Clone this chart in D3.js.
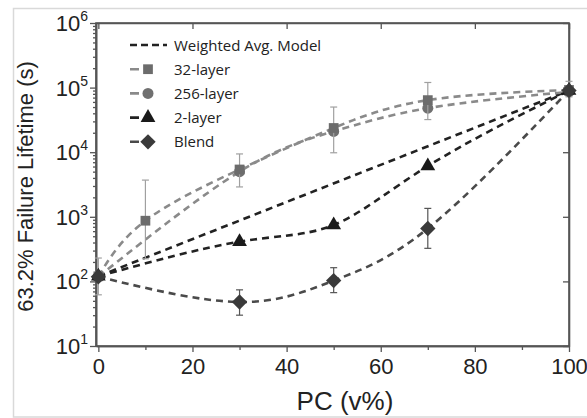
<!DOCTYPE html>
<html><head><meta charset="utf-8">
<script src="https://cdn.jsdelivr.net/npm/d3@7/dist/d3.min.js"></script>
<style>body{margin:0;background:#fff}svg{display:block}</style>
</head><body><svg id="c" width="587" height="418"></svg>
<script>
// ---- data ----
const xTicks = [0, 20, 40, 60, 80, 100];
const xMinor = [10, 30, 50, 70, 90];
const yDecades = [1, 2, 3, 4, 5, 6];
const modelX = [0, 100];
const modelY = [120, 90000];
const l32X = [0, 10, 30, 50, 70, 100];
const l32Y = [120, 870, 5400, 23700, 64000, 92000];
const l32Lo = [62, 224, 2900, 9800, 32000, 72000];
const l32Hi = [230, 3700, 9400, 50000, 120000, 125000];
const l256X = [0, 30, 50, 70, 100];
const l256Y = [118, 5000, 21000, 48000, 86000];
const l2X = [0, 30, 50, 70, 100];
const l2Y = [120, 412, 746, 6100, 90000];
const blendX = [0, 30, 50, 70, 100];
const blendY = [118, 48, 103, 660, 90000];
const blendLo = [null, 30, 67, 325, null];
const blendHi = [null, 74, 163, 1350, null];
const legendLabels = ["Weighted Avg. Model", "32-layer", "256-layer", "2-layer", "Blend"];

// ---- layout ----
const svg = d3.select("#c");
const L = 96, R = 569, T = 23, B = 346;
const x = d3.scaleLinear().domain([-0.5, 100]).range([L, R]);
const y = d3.scaleLog().domain([10, 1e6]).range([B, T]);

svg.append("rect").attr("x", 13.5).attr("y", 8.5).attr("width", 585).attr("height", 408.5)
  .attr("fill", "none").attr("stroke", "#d9d9d9").attr("stroke-width", 1.5);

const axisCol = "#555";
svg.append("rect").attr("x", L).attr("y", T).attr("width", R - L).attr("height", B - T)
  .attr("fill", "none").attr("stroke", axisCol).attr("stroke-width", 1.6);

const bx = svg.append("g").attr("transform", `translate(0,${B})`)
  .call(d3.axisBottom(x).tickValues(xTicks).tickSize(6).tickSizeOuter(0).tickPadding(6));
svg.append("g").attr("transform", `translate(0,${B})`)
  .call(d3.axisBottom(x).tickValues(xMinor).tickSize(4).tickSizeOuter(0).tickFormat(""));
svg.append("g").attr("transform", `translate(0,${T})`)
  .call(d3.axisBottom(x).tickValues(xTicks).tickSize(6).tickSizeOuter(0).tickFormat(""));
const majorY = yDecades.map(d => Math.pow(10, d));
const minorY = [];
for (let e = 1; e < 6; e++) for (let m = 2; m <= 9; m++) minorY.push(m * Math.pow(10, e));
svg.append("g").attr("transform", `translate(${L},0)`)
  .call(d3.axisLeft(y).tickValues(majorY).tickSize(6).tickSizeOuter(0).tickFormat(""));
svg.append("g").attr("transform", `translate(${L},0)`)
  .call(d3.axisLeft(y).tickValues(minorY).tickSize(3).tickSizeOuter(0).tickFormat(""));
svg.append("g").attr("transform", `translate(${R},0)`)
  .call(d3.axisLeft(y).tickValues(majorY).tickSize(6).tickSizeOuter(0).tickFormat(""));

svg.selectAll(".domain").attr("stroke", axisCol).attr("stroke-width", 1.6);
svg.selectAll(".tick line").attr("stroke", axisCol).attr("stroke-width", 1.3);
bx.selectAll("text").attr("font-family", "Liberation Sans, Arial, sans-serif")
  .attr("font-size", 22).attr("fill", "#222");

const yl = svg.append("g");
yDecades.forEach(e => {
  const t = yl.append("text").attr("x", 88).attr("y", y(Math.pow(10, e)) + 8)
    .attr("text-anchor", "end").attr("font-family", "Liberation Sans, Arial, sans-serif")
    .attr("font-size", 22).attr("fill", "#222");
  t.append("tspan").text("10");
  t.append("tspan").attr("dy", -10).attr("font-size", 14).text(e);
});

svg.append("text").attr("transform", `translate(33,${(T + B) / 2 + 2}) rotate(-90)`)
  .attr("text-anchor", "middle").attr("font-family", "Liberation Sans, Arial, sans-serif")
  .attr("font-size", 22).attr("fill", "#222").text("63.2% Failure Lifetime (s)");
svg.append("text").attr("x", 345).attr("y", 410).attr("text-anchor", "middle")
  .attr("font-family", "Liberation Sans, Arial, sans-serif").attr("font-size", 26)
  .attr("fill", "#222").text("PC (v%)");

// ---- series ----
const dash = "7,5";
const lineStraight = d3.line().x(d => x(d[0])).y(d => y(d[1]));
const lineCurve = d3.line().x(d => x(d[0])).y(d => y(d[1])).curve(d3.curveNatural);
const plot = svg.append("g");
const zip = (a, b) => a.map((v, i) => [v, b[i]]);
const symSize = s => s === d3.symbolDiamond2 ? 150 : 95;

const series = [
  {X: l256X, Y: l256Y, col: "#8a8a8a", mcol: "#707070", sym: d3.symbolCircle},
  {X: l32X, Y: l32Y, col: "#8a8a8a", mcol: "#6c6c6c", sym: d3.symbolSquare, lo: l32Lo, hi: l32Hi, ecol: "#a0a0a0"},
  {X: l2X, Y: l2Y, col: "#222", mcol: "#1a1a1a", sym: d3.symbolTriangle},
  {X: blendX, Y: blendY, col: "#4a4a4a", mcol: "#3a3a3a", sym: d3.symbolDiamond2, lo: blendLo, hi: blendHi, ecol: "#555"}
];

plot.append("path").attr("d", lineStraight(zip(modelX, modelY))).attr("fill", "none")
  .attr("stroke", "#222").attr("stroke-width", 2.6).attr("stroke-dasharray", dash);

series.forEach(s => {
  plot.append("path").attr("d", lineCurve(zip(s.X, s.Y))).attr("fill", "none")
    .attr("stroke", s.col).attr("stroke-width", 2.6).attr("stroke-dasharray", dash);
});
series.forEach(s => {
  if (s.lo) {
    s.X.forEach((xv, i) => {
      if (s.lo[i] == null) return;
      const g = plot.append("g").attr("stroke", s.ecol).attr("stroke-width", 1.2);
      g.append("line").attr("x1", x(xv)).attr("x2", x(xv)).attr("y1", y(s.lo[i])).attr("y2", y(s.hi[i]));
      [s.lo[i], s.hi[i]].forEach(v => g.append("line").attr("x1", x(xv) - 3.5).attr("x2", x(xv) + 3.5)
        .attr("y1", y(v)).attr("y2", y(v)));
    });
  }
  plot.selectAll(null).data(zip(s.X, s.Y)).enter().append("path")
    .attr("d", d3.symbol().type(s.sym).size(symSize(s.sym)))
    .attr("transform", d => `translate(${x(d[0])},${y(d[1])})`).attr("fill", s.mcol);
});

// ---- legend ----
const leg = svg.append("g");
const legStyle = [
  {col: "#222", sym: null},
  {col: "#8a8a8a", mcol: "#6c6c6c", sym: d3.symbolSquare},
  {col: "#8a8a8a", mcol: "#707070", sym: d3.symbolCircle},
  {col: "#222", mcol: "#1a1a1a", sym: d3.symbolTriangle},
  {col: "#4a4a4a", mcol: "#3a3a3a", sym: d3.symbolDiamond2}
];
legendLabels.forEach((lab, i) => {
  const yy = 45 + i * 24.2;
  const st = legStyle[i];
  leg.append("line").attr("x1", 130).attr("x2", 167).attr("y1", yy).attr("y2", yy)
    .attr("stroke", st.col).attr("stroke-width", 2.6)
    .attr("stroke-dasharray", st.sym ? "9,7,4,20" : "7,4");
  if (st.sym) leg.append("path").attr("d", d3.symbol().type(st.sym).size(symSize(st.sym)))
    .attr("transform", `translate(148,${yy})`).attr("fill", st.mcol);
  leg.append("text").attr("x", 174).attr("y", yy + 5.5).attr("font-family", "Open Sans, sans-serif")
    .attr("font-size", 15).attr("fill", "#222").text(lab);
});
</script></body></html>
